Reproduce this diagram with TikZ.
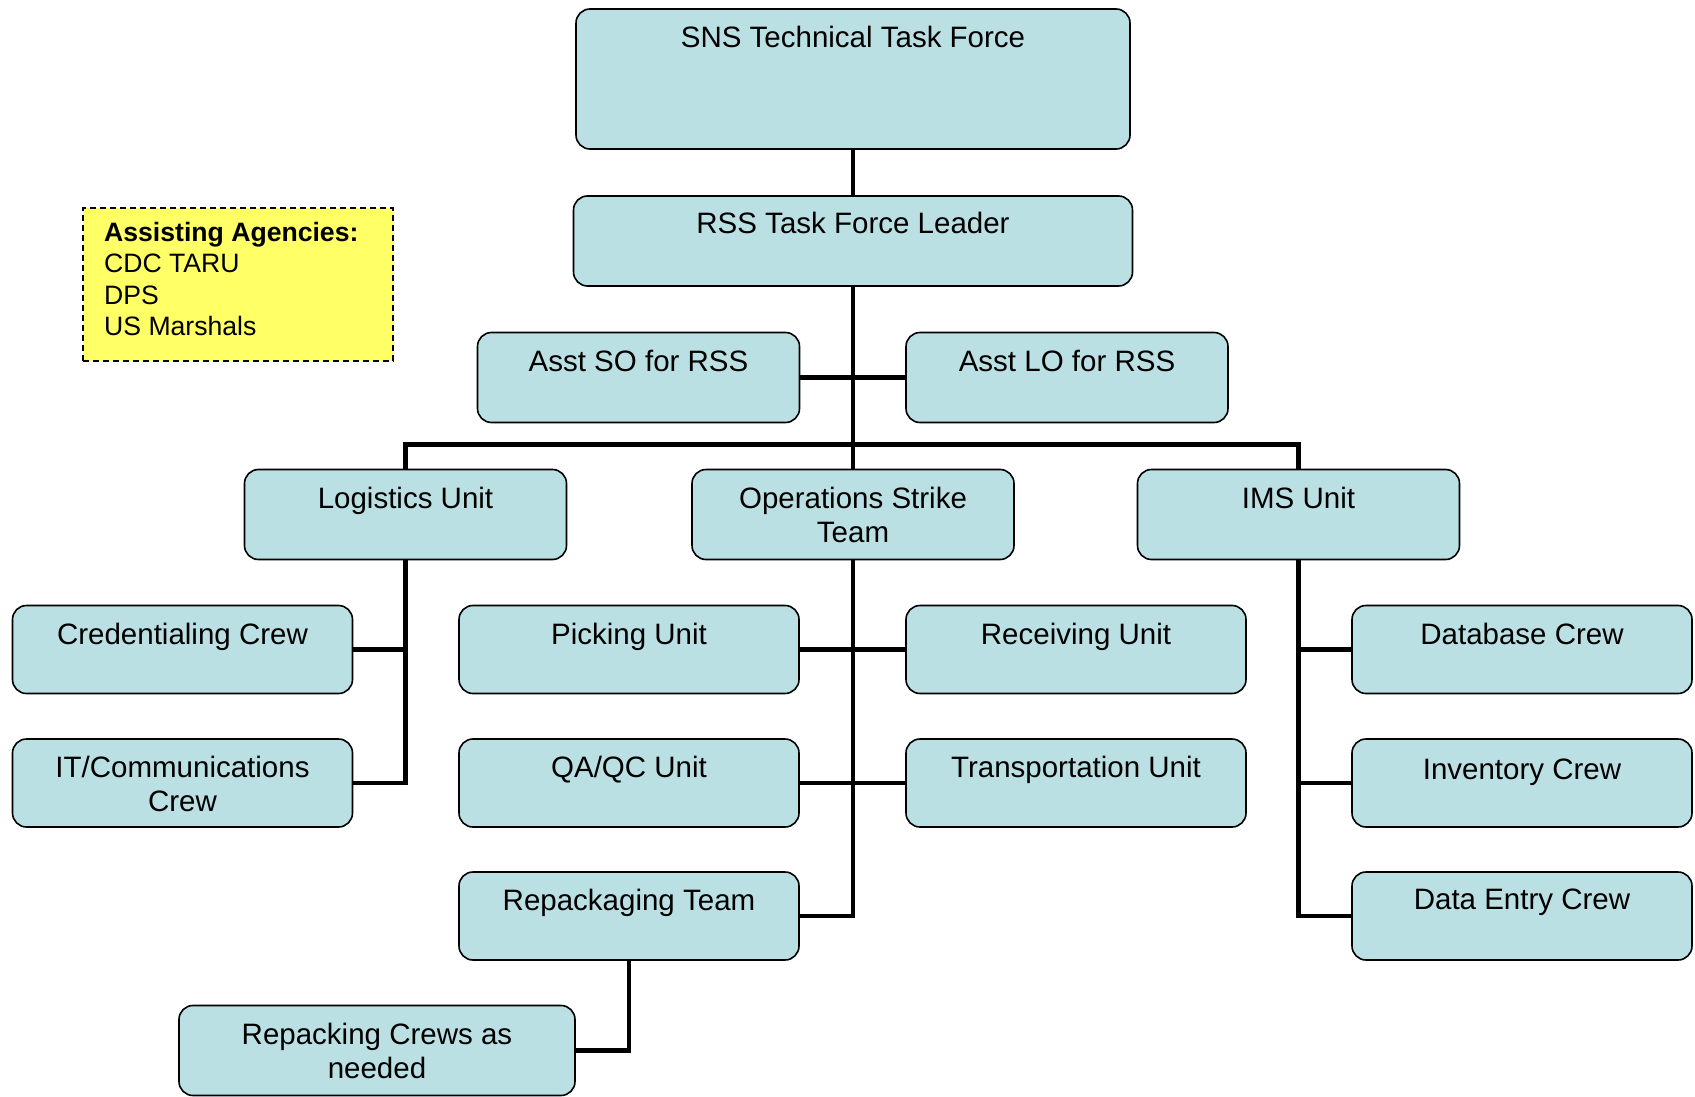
\documentclass[tikz,border=0pt]{standalone}
\usepackage{fontspec}
\setmainfont{Liberation Sans}
\definecolor{boxfill}{RGB}{187,224,227}
\definecolor{notefill}{RGB}{255,255,102}
\begin{document}
\begin{tikzpicture}[x=1pt,y=-1pt,
  box/.style={draw=black, fill=boxfill, rounded corners=14pt, line width=1.6pt, inner sep=0pt},
  mid/.style={box, minimum width=322pt, minimum height=90pt},
  small/.style={box, minimum width=340pt, minimum height=88pt},
  lbl/.style={anchor=north, yshift=-17.8pt, inner sep=0pt, align=center,
              font=\fontsize{29.5}{34}\selectfont},
  conn/.style={line width=4.8pt, line join=miter, draw=black}]
\useasboundingbox (0,0) rectangle (1695,1097);

% top of the hierarchy
\node[box, minimum width=554pt, minimum height=140pt,
      label={[lbl]north:SNS Technical Task Force}] (sns) at (853,79) {};
\node[box, minimum width=559pt, minimum height=90pt,
      label={[lbl, yshift=1.5pt]north:RSS Task Force Leader}] (rss) at (853,241) {};

% assistants
\node[mid, label={[lbl]north:Asst SO for RSS}] (so) at (638.5,377.5) {};
\node[mid, label={[lbl]north:Asst LO for RSS}] (lo) at (1067,377.5) {};

% units
\node[mid, label={[lbl]north:Logistics Unit}] (log) at (405.5,514.5) {};
\node[mid, label={[lbl]north:Operations Strike\\Team}] (ops) at (853,514.5) {};
\node[mid, label={[lbl]north:IMS Unit}] (ims) at (1298.5,514.5) {};

% logistics crews
\node[small, label={[lbl]north:Credentialing Crew}] (cred) at (182.5,649.5) {};
\node[small, label={[lbl]north:IT/Communications\\Crew}] (itc) at (182.5,783) {};

% operations units
\node[small, label={[lbl]north:Picking Unit}] (pick) at (629,649.5) {};
\node[small, label={[lbl]north:Receiving Unit}] (recv) at (1076,649.5) {};
\node[small, label={[lbl]north:QA/QC Unit}] (qa) at (629,783) {};
\node[small, label={[lbl]north:Transportation Unit}] (trans) at (1076,783) {};
\node[small, label={[lbl]north:Repackaging Team}] (rep) at (629,916) {};
\node[box, minimum width=396pt, minimum height=90pt,
      label={[lbl]north:Repacking Crews as\\needed}] (crews) at (377,1050.5) {};

% IMS crews
\node[small, label={[lbl]north:Database Crew}] (db) at (1522,649.5) {};
\node[small, label={[lbl, yshift=-3pt]north:Inventory Crew}] (inv) at (1522,783) {};
\node[small, label={[lbl]north:Data Entry Crew}] (dentry) at (1522,916) {};

% note on assisting agencies
\node[draw=black, fill=notefill, dashed, line width=1.6pt, dash pattern=on 6pt off 4pt,
      minimum width=310pt, minimum height=153pt, inner sep=0pt] (note) at (238,284.5) {};
\node[anchor=north west, inner sep=0pt, align=left,
      font=\fontsize{26.6}{31.5}\selectfont] (notetext) at (104,222)
  {\textbf{Assisting Agencies:}\\CDC TARU\\DPS\\US Marshals};

% connectors
\draw[conn] (sns.south) -- (rss.north);
\draw[conn] (rss.south) -- (ops.north);
\draw[conn] (so.east) -- (lo.west);
\draw[conn] (log.north) -- ++(0,-24) -| (ims.north);
\draw[conn] (log.south) |- (itc.east);
\draw[conn] (cred.east) -- (cred.east -| log.south);
\draw[conn] (ops.south) |- (rep.east);
\draw[conn] (pick.east) -- (recv.west);
\draw[conn] (qa.east) -- (trans.west);
\draw[conn] (ims.south) |- (dentry.west);
\draw[conn] (db.west) -- (db.west -| ims.south);
\draw[conn] (inv.west) -- (inv.west -| ims.south);
\draw[conn] (rep.south) |- (crews.east);
\end{tikzpicture}
\end{document}
